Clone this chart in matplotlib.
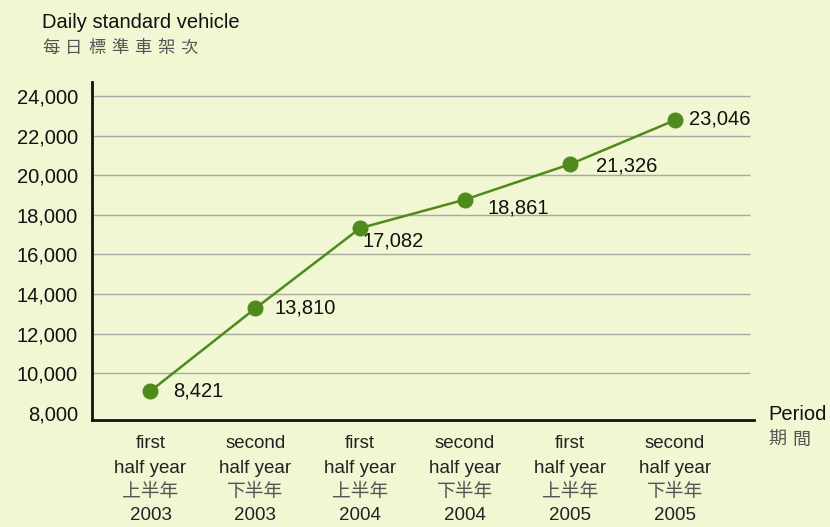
import matplotlib

matplotlib.use("Agg")
import matplotlib.pyplot as plt  # noqa: E402
from matplotlib import transforms  # noqa: E402

# data
periods_en = ["first", "second", "first", "second", "first", "second"]
periods_zh = ["上半年", "下半年", "上半年", "下半年", "上半年", "下半年"]
years = ["2003", "2003", "2004", "2004", "2005", "2005"]
vehicles = [9110, 13280, 17330, 18770, 20550, 22770]
value_labels = ["8,421", "13,810", "17,082", "18,861", "21,326", "23,046"]
yticks = [8000, 10000, 12000, 14000, 16000, 18000, 20000, 22000, 24000]

# label offsets in points (dx, dy)
label_offsets = [(16, 0), (14, 0), (2, -9), (16, -6), (19, -1), (10, 1)]

BG = "#f0f7d2"
GREEN = "#4f8a1c"
FONT = ["Liberation Sans", "Noto Sans CJK TC", "DejaVu Sans"]
CJK = ["Noto Sans CJK TC", "DejaVu Sans"]

plt.rcParams["font.family"] = FONT

fig = plt.figure(figsize=(8.3, 5.27), dpi=100, facecolor=BG)
ax = fig.add_axes([0.1105, 0.203, 0.7985, 0.6414], facecolor=BG)

x = list(range(len(vehicles)))
ax.set_xlim(-0.56, 5.76)
ax.set_ylim(7650, 24700)

# horizontal grid lines, stopping short of the axis end
ax.hlines(yticks[1:], -0.56, 5.72, color="#a8a8a0", linewidth=1.0, zorder=1)

ax.plot(x, vehicles, color=GREEN, linewidth=1.8, marker="o", markersize=10.5,
        zorder=3)

for xi, yi, lab, (dx, dy) in zip(x, vehicles, value_labels, label_offsets):
    ax.annotate(lab, (xi, yi), xytext=(dx, dy), textcoords="offset points",
                ha="left", va="center", fontsize=14.5, color="#111111")

for side in ["top", "right"]:
    ax.spines[side].set_visible(False)
ax.spines["left"].set_linewidth(2)
ax.spines["bottom"].set_linewidth(2)
ax.spines["left"].set_color("#111111")
ax.spines["bottom"].set_color("#111111")

ax.set_yticks(yticks)
ax.set_yticklabels(["{:,}".format(v) for v in yticks], fontsize=14.5,
                   color="#111111")
ax.tick_params(axis="y", length=0, pad=10)
ax.set_xticks([])

# multi-line category labels under the x axis
trans = transforms.blended_transform_factory(ax.transData, ax.transAxes)
for xi, en, zh, yr in zip(x, periods_en, periods_zh, years):
    ax.text(xi, -0.07, en, transform=trans, ha="center", va="center",
            fontsize=13.5, color="#222222")
    ax.text(xi, -0.142, "half year", transform=trans, ha="center",
            va="center", fontsize=13.5, color="#222222")
    ax.text(xi, -0.212, zh, transform=trans, ha="center", va="center",
            fontsize=13.5, color="#555555", family=CJK)
    ax.text(xi, -0.282, yr, transform=trans, ha="center", va="center",
            fontsize=13.5, color="#222222")

# axis titles
fig.text(42 / 830, 1 - 22 / 527, "Daily standard vehicle", ha="left",
         va="center", fontsize=14.5, color="#111111")
for i, ch in enumerate("每日標準車架次"):
    fig.text((42 + 23 * i) / 830, 1 - 48 / 527, ch, ha="left", va="center",
             fontsize=12.5, color="#555555", family=CJK)
fig.text(768 / 830, 1 - 415 / 527, "Period", ha="left", va="center",
         fontsize=14.5, color="#111111")
for i, ch in enumerate("期間"):
    fig.text((768 + 24 * i) / 830, 1 - 440 / 527, ch, ha="left",
             va="center", fontsize=13, color="#555555", family=CJK)

plt.savefig("out.png", dpi=100, facecolor=BG)
